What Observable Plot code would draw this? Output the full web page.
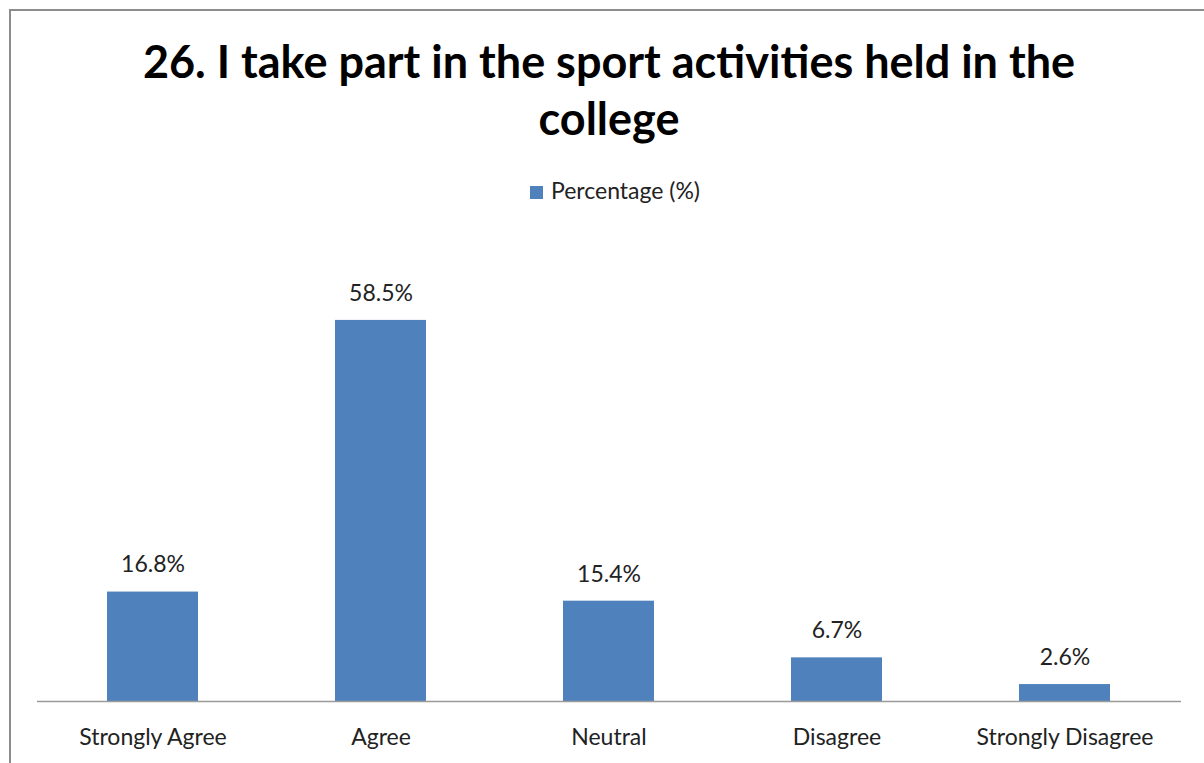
<!DOCTYPE html>
<html>
<head>
<meta charset="utf-8">
<script src="https://cdn.jsdelivr.net/npm/d3@7"></script>
<script src="https://cdn.jsdelivr.net/npm/@observablehq/plot@0.6"></script>
<style>
  html, body { margin: 0; padding: 0; background: #fff; width: 1204px; height: 763px; overflow: hidden; font-family: Lato, "Open Sans", sans-serif; }
  #frame { position: absolute; left: 9px; top: 9px; width: 1400px; height: 900px; border-left: 2px solid #8c8c8c; border-top: 2px solid #8c8c8c; }
  #title { position: absolute; left: 59px; width: 1100px; top: 33px; text-align: center; font-weight: bold; font-size: 45px; line-height: 57px; color: #000; }
  #legend { position: absolute; left: 0; width: 1230px; top: 176px; text-align: center; font-size: 23px; color: #222; }
  #legend .sw { display: inline-block; width: 13px; height: 13px; background: #4f81bd; margin-right: 8px; vertical-align: 0px; }
  #chart { position: absolute; left: 0; top: 210px; }
</style>
</head>
<body>
<div id="frame"></div>
<div id="title">26. I take part in the sport activities held in the<br>college</div>
<div id="legend"><span class="sw"></span>Percentage (%)</div>
<div id="chart"></div>
<script>
const categories = ["Strongly Agree", "Agree", "Neutral", "Disagree", "Strongly Disagree"];
const values = [16.8, 58.5, 15.4, 6.7, 2.6];
const seriesName = "Percentage (%)";

const data = categories.map((c, i) => ({category: c, value: values[i]}));

const chart = Plot.plot({
  width: 1204,
  height: 553,
  marginLeft: 37,
  marginRight: 23,
  marginTop: 35,
  marginBottom: 62,
  style: {fontFamily: "Lato, 'Open Sans', sans-serif", background: "transparent", color: "#222"},
  x: {domain: categories, paddingInner: 0.6, paddingOuter: 0.3, label: null},
  y: {domain: [0, 70], axis: null},
  marks: [
    Plot.barY(data, {x: "category", y: "value", fill: "#4f81bd"}),
    Plot.ruleY([0], {stroke: "#9a9a9a", strokeWidth: 1.5}),
    Plot.text(data, {x: "category", y: "value", text: d => d.value.toFixed(1) + "%", dy: -27, fontSize: 23, fill: "#222"}),
    Plot.axisX({tickSize: 0, tickPadding: 27, fontSize: 23, label: null, fill: "#222"})
  ]
});
document.getElementById("chart").appendChild(chart);
</script>
</body>
</html>
